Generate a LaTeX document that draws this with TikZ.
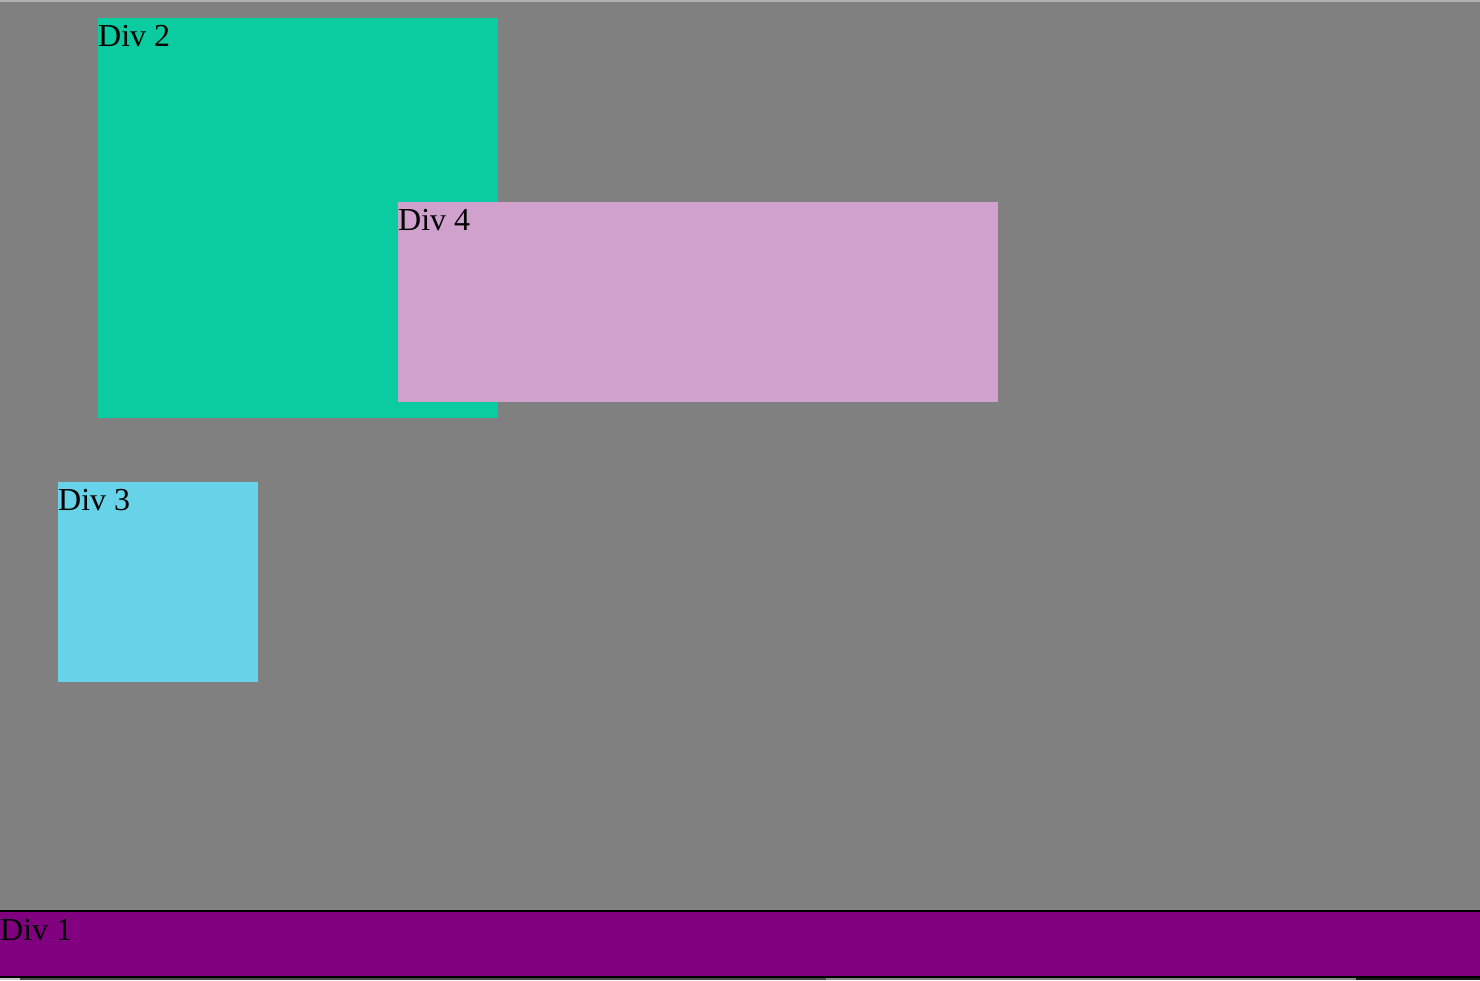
\documentclass[tikz,border=0pt]{standalone}
\usepackage{fontspec}
\setmainfont{Liberation Serif}
\definecolor{bg}{HTML}{808080}
\definecolor{divtwo}{HTML}{0ACCA0}
\definecolor{divfour}{HTML}{CFA1CC}
\definecolor{divthree}{HTML}{67D3E8}
\definecolor{divone}{HTML}{800080}
\definecolor{topline}{HTML}{B0B0B0}
\definecolor{bardark}{HTML}{4A4A4A}
\definecolor{barmid}{HTML}{8A8A8A}
\definecolor{barlight}{HTML}{C8C8C8}
\tikzset{
  box/.style={inner sep=0pt, outer sep=0pt, draw=none},
  lbl/.style={inner sep=0pt, anchor=base west, font=\fontsize{32}{38}\selectfont, text=black}
}
\begin{document}
\begin{tikzpicture}[x=1pt,y=-1pt]
\useasboundingbox (0,0) rectangle (1480,980);
\fill[bg] (0,0) rectangle (1480,980);
\fill[topline] (0,0) rectangle (1480,1.5);
% Div 2
\fill[divtwo] (98,18) rectangle (498,418);
\node[lbl] (t2) at (98,46.5) {Div 2};
% Div 4
\fill[divfour] (398,202) rectangle (998,402);
\node[lbl] (t4) at (398,230.5) {Div 4};
% Div 3
\fill[divthree] (58,482) rectangle (258,682);
\node[lbl] (t3) at (58,510.5) {Div 3};
% Div 1
\fill[black] (0,910) rectangle (1480,978);
\fill[divone] (0,912) rectangle (1480,975.5);
\node[lbl] (t1) at (0,940.5) {Div 1};
% bottom strip
\fill[barlight] (0,977.5) rectangle (20,980);
\fill[bardark] (20,977.5) rectangle (826,980);
\fill[barmid] (826,977.5) rectangle (1356,980);
\fill[black!90] (1356,977.5) rectangle (1480,980);
\end{tikzpicture}
\end{document}
